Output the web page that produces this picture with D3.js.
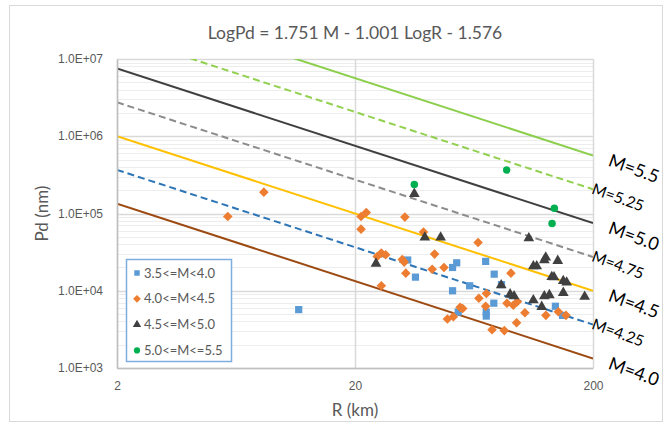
<!DOCTYPE html>
<html>
<head>
<meta charset="utf-8">
<script src="https://cdn.jsdelivr.net/npm/d3@7"></script>
<style>
  body{margin:0;background:#fff;}
  svg{display:block;font-family:Lato, "Open Sans", sans-serif;}
  .axisGraph text{fill:#595959;font-size:12px;}
  .labelGraph{fill:#595959;font-size:17px;}
</style>
</head>
<body>
<svg id="chart" width="669" height="425"></svg>
<script>

/************************************************************************************************************/
// data

var titleText = "LogPd = 1.751 M - 1.001 LogR - 1.576";

var xTicks = [2, 20, 200];
var yTicks = [1e3, 1e4, 1e5, 1e6, 1e7];
var yTickLabels = ["1.0E+03", "1.0E+04", "1.0E+05", "1.0E+06", "1.0E+07"];

// model lines, Pd at R=2 km and at R=200 km
var lineMags = [4.0, 4.25, 4.5, 4.75, 5.0, 5.25, 5.5];
var lineLabels = ["M=4.0", "M=4.25", "M=4.5", "M=4.75", "M=5.0", "M=5.25", "M=5.5"];
var linePdStart = [1.34e5, 3.67e5, 1.0e6, 2.75e6, 7.54e6, 2.07e7, 5.67e7];
var linePdEnd = [1.33e3, 3.65e3, 1.0e4, 2.74e4, 7.51e4, 2.06e5, 5.64e5];

var seriesNames = ["3.5<=M<4.0", "4.0<=M<4.5", "4.5<=M<5.0", "5.0<=M<=5.5"];

// [R (km), Pd (nm)]
var pointsM35 = [
  [11.6, 5700], [33.3, 25000], [35.9, 15000], [51.4, 20000], [53.5, 23000], [51.4, 10000],
  [60.6, 11600], [54.3, 5300], [70.8, 24000], [76.9, 16400], [71.2, 5300], [71.2, 4700],
  [76.6, 6900], [82.5, 12000], [139, 6300], [149, 4800]
];

var pointsM40 = [
  [5.84, 91500], [8.28, 189000], [21.2, 91500], [22.3, 103000], [21.2, 62700], [32.4, 89800],
  [24.8, 27800], [25.8, 30700], [26.9, 29300], [25.8, 11600], [31.6, 25400], [32.2, 23500],
  [32.7, 16900], [38.8, 57400], [43.2, 29800], [42.2, 19000], [47.3, 20000], [65.8, 42200],
  [48.9, 4300], [51.8, 4600], [55.3, 6100], [56.7, 5900], [66.3, 8000], [71.3, 9200],
  [70.8, 6300], [75.3, 3130], [84.8, 3050], [87.0, 6900], [92.5, 6500], [96.2, 7200],
  [90.4, 16900], [95.5, 3850], [103.5, 5200], [126.8, 4800], [143, 5350], [154, 4800]
];

var pointsM45 = [
  [24.5, 22500], [35.5, 180000], [39.3, 49000], [45.8, 49000], [82.3, 11800], [89.7, 9000],
  [93.2, 8500], [107.5, 48000], [112.3, 20800], [116, 20800], [124.9, 24900], [126.6, 27000],
  [142.2, 24400], [134.2, 15100], [137.2, 15000], [150, 13400], [155, 12800], [112.3, 7550],
  [121.8, 6200], [124.9, 8500], [131.1, 8800], [150, 9400], [184.5, 8400]
];

var pointsM50 = [
  [35.5, 238000], [86.8, 365000], [137.6, 117000], [134.6, 74400]
];

/************************************************************************************************************/

var svg = d3.select("#chart");

svg.margin = {left: 117, top: 59, right: 76, bottom: 57};
svg.width = 669 - svg.margin.left - svg.margin.right;
svg.height = 425 - svg.margin.top - svg.margin.bottom;

var x = d3.scaleLog().domain([2, 200]).range([0, svg.width]);
var y = d3.scaleLog().domain([1e3, 1e7]).range([svg.height, 0]);

// chart area border
svg.append("rect")
  .attr("x", 9.5).attr("y", 5.5)
  .attr("width", 653).attr("height", 416)
  .attr("fill", "none")
  .attr("stroke", "#d9d9d9");

// title
svg.append("text")
  .attr("x", svg.margin.left + svg.width / 2)
  .attr("y", 39)
  .attr("text-anchor", "middle")
  .attr("fill", "#595959")
  .style("font-size", "17.5px")
  .text(titleText);

var plot = svg.append("g").attr("transform", "translate(" + [svg.margin.left, svg.margin.top] + ")");

plot.append("clipPath").attr("id", "plotClip")
  .append("rect").attr("width", svg.width).attr("height", svg.height);

/************************************************************************************************************/
// grid

svg.grid = plot.append("g");

var minorValues = [];
yTicks.slice(0, -1).forEach(function(base){
  for(var k = 2; k < 10; k++) minorValues.push(base * k);
});

svg.grid.selectAll(".minor").data(minorValues).enter().append("line")
  .attr("class", "minor")
  .attr("x1", 0).attr("x2", svg.width)
  .attr("y1", function(d){return Math.round(y(d)) + 0.5;})
  .attr("y2", function(d){return Math.round(y(d)) + 0.5;})
  .attr("stroke", "#ededed");

svg.grid.selectAll(".major").data(yTicks).enter().append("line")
  .attr("class", "major")
  .attr("x1", 0).attr("x2", svg.width)
  .attr("y1", function(d){return Math.round(y(d)) + 0.5;})
  .attr("y2", function(d){return Math.round(y(d)) + 0.5;})
  .attr("stroke", "#d9d9d9")
  .attr("stroke-width", 1.5);

svg.grid.selectAll(".majorX").data(xTicks).enter().append("line")
  .attr("class", "majorX")
  .attr("x1", function(d){return Math.round(x(d)) + 0.5;})
  .attr("x2", function(d){return Math.round(x(d)) + 0.5;})
  .attr("y1", 0).attr("y2", svg.height)
  .attr("stroke", "#d9d9d9")
  .attr("stroke-width", 1.5);

/************************************************************************************************************/
// model lines

var lineColors = ["#9c4a12", "#2e75b6", "#ffc000", "#8c8c8c", "#404040", "#92d050", "#8ccf4d"];
var lineDashed = [false, true, false, true, false, true, false];

var lineData = lineMags.map(function(m, i){
  return {m: m, label: lineLabels[i], start: linePdStart[i], end: linePdEnd[i],
    color: lineColors[i], dashed: lineDashed[i]};
});

plot.append("g").attr("clip-path", "url(#plotClip)")
  .selectAll("line").data(lineData).enter().append("line")
  .attr("x1", x(2)).attr("x2", x(200))
  .attr("y1", function(d){return y(d.start);})
  .attr("y2", function(d){return y(d.end);})
  .attr("stroke", function(d){return d.color;})
  .attr("stroke-width", 2)
  .attr("stroke-dasharray", function(d){return d.dashed ? "7,4" : null;});

/************************************************************************************************************/
// scatter

var symSquare = d3.symbol().type(d3.symbolSquare).size(52);
var symDiamond = d3.symbol().type(d3.symbolSquare).size(46);
var symTriangle = d3.symbol().type(d3.symbolTriangle).size(50);
var symCircle = d3.symbol().type(d3.symbolCircle).size(44);

var series = [
  {name: seriesNames[0], data: pointsM35, sym: symSquare, rot: 0, color: "#5b9bd5"},
  {name: seriesNames[1], data: pointsM40, sym: symDiamond, rot: 45, color: "#ed7d31"},
  {name: seriesNames[2], data: pointsM45, sym: symTriangle, rot: 0, color: "#404040"},
  {name: seriesNames[3], data: pointsM50, sym: symCircle, rot: 0, color: "#00b050"}
];

series.forEach(function(s){
  plot.append("g").selectAll("path").data(s.data).enter().append("path")
    .attr("d", s.sym())
    .attr("transform", function(d){return "translate(" + [x(d[0]), y(d[1])] + ") rotate(" + s.rot + ")";})
    .attr("fill", s.color);
});

/************************************************************************************************************/
// axes

svg.axisx = svg.append("g")
  .attr("class", "axisGraph")
  .attr("transform", "translate(" + [svg.margin.left, svg.margin.top + svg.height] + ")")
  .call(d3.axisBottom(x).tickValues(xTicks).tickFormat(d3.format("d")).tickSize(0).tickPadding(13));
svg.axisx.select(".domain").attr("stroke", "#bfbfbf").attr("stroke-width", 1.5);

svg.axisy = svg.append("g")
  .attr("class", "axisGraph")
  .attr("transform", "translate(" + [svg.margin.left, svg.margin.top] + ")")
  .call(d3.axisLeft(y).tickValues(yTicks)
    .tickFormat(function(d, i){return yTickLabels[i];}).tickSize(0).tickPadding(14));
svg.axisy.select(".domain").attr("stroke", "#bfbfbf").attr("stroke-width", 1.5);
svg.axisy.selectAll("text").attr("dy", "0.3em");

svg.append("text")
  .attr("class", "labelGraph")
  .attr("text-anchor", "middle")
  .attr("x", svg.margin.left + svg.width / 2)
  .attr("y", 416)
  .text("R (km)");

svg.append("text")
  .attr("class", "labelGraph")
  .attr("text-anchor", "middle")
  .attr("transform", "translate(" + [48, svg.margin.top + svg.height / 2] + ") rotate(-90)")
  .text("Pd (nm)");

/************************************************************************************************************/
// M labels at the right end of each line

svg.selectAll(".mLabel").data(lineData).enter().append("text")
  .attr("class", "mLabel")
  .attr("text-anchor", "middle")
  .attr("fill", "#000")
  .style("font-size", function(d){return d.dashed ? "15.5px" : "18px";})
  .attr("transform", function(d){
    var px = svg.margin.left + x(200) + (d.dashed ? 25 : 41);
    var py = svg.margin.top + y(d.end) + (d.dashed ? 8 : 13);
    return "translate(" + [px, py] + ") rotate(20)";
  })
  .attr("dy", "0.35em")
  .text(function(d){return d.label;});

/************************************************************************************************************/
// legend

var legend = svg.append("g").attr("transform", "translate(126, 259)");

legend.append("rect")
  .attr("x", 0.5).attr("y", 0.5)
  .attr("width", 105).attr("height", 102)
  .attr("fill", "#fff")
  .attr("stroke", "#7eaee0")
  .attr("stroke-width", 1.5);

var legendItem = legend.selectAll(".item").data(series).enter().append("g")
  .attr("class", "item")
  .attr("transform", function(d, i){return "translate(" + [11, 14 + i * 25.8] + ")";});

legendItem.append("path")
  .attr("d", function(d){return d.sym.size(30)();})
  .attr("transform", function(d){return "rotate(" + d.rot + ")";})
  .attr("fill", function(d){return d.color;});

legendItem.append("text")
  .attr("x", 7)
  .attr("dy", "0.35em")
  .attr("fill", "#595959")
  .style("font-size", "13px")
  .text(function(d){return d.name;});

</script>
</body>
</html>
